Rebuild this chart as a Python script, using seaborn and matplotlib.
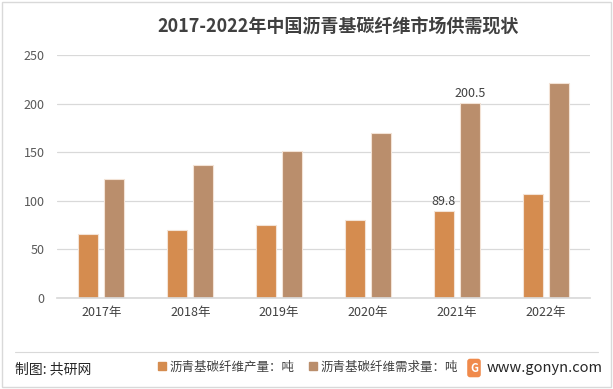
import pandas as pd
import matplotlib.pyplot as plt
import matplotlib.patches as mpatches
from matplotlib.lines import Line2D
import seaborn as sns

# data
years = ["2017年", "2018年", "2019年", "2020年", "2021年", "2022年"]
output_t = [66.0, 70.0, 75.0, 80.0, 89.8, 107.0]
demand_t = [122.5, 137.0, 151.5, 170.0, 200.5, 221.0]
series_names = ["沥青基碳纤维产量：吨", "沥青基碳纤维需求量：吨"]
series_colors = ["#D58C4F", "#BA8E6C"]


def build_df():
    rows = []
    for y, a, b in zip(years, output_t, demand_t):
        rows.append({"year": y, "series": series_names[0], "value": a})
        rows.append({"year": y, "series": series_names[1], "value": b})
    return pd.DataFrame(rows)


def plotChart(df):
    sns.set_theme(style="white")
    plt.rcParams["font.family"] = ["Noto Sans CJK SC", "DejaVu Sans"]

    fig = plt.figure(figsize=(6.13, 3.89), dpi=100)
    ax = fig.add_axes([57 / 613, 1 - 298 / 389, 533 / 613, 243 / 389])

    sns.barplot(data=df, x="year", y="value", hue="series", order=years,
                hue_order=series_names, palette=series_colors, saturation=1,
                width=0.585, gap=0.23, edgecolor="#F3E3D6", linewidth=0.8,
                legend=False, ax=ax)

    ax.set_ylim(0, 250)
    ax.set_xlim(-0.5, 5.5)
    ax.set_yticks(range(0, 251, 50))
    ax.yaxis.grid(True, color="#D9D9D9", linewidth=0.9)
    ax.set_axisbelow(True)
    for s in ["top", "right", "left"]:
        ax.spines[s].set_visible(False)
    ax.spines["bottom"].set_color("#D9D9D9")
    ax.set_xlabel("")
    ax.set_ylabel("")
    ax.tick_params(axis="y", length=0, labelsize=9, labelcolor="#595959", pad=9)
    ax.tick_params(axis="x", length=0, labelsize=9, labelcolor="#404040", pad=6)

    # data labels only on 2021
    i = years.index("2021年")
    off = 0.585 / 4
    ax.text(i - off, output_t[i] + 3, f"{output_t[i]:.1f}", ha="center", va="bottom",
            fontsize=9, color="#404040")
    ax.text(i + off, demand_t[i] + 3, f"{demand_t[i]:.1f}", ha="center", va="bottom",
            fontsize=9, color="#404040")

    fig.text(338 / 613, 1 - 27 / 389, "2017-2022年中国沥青基碳纤维市场供需现状",
             ha="center", va="center", fontsize=13, fontweight="bold", color="#404040")

    # footer
    fig.add_artist(Line2D([15 / 613, 598 / 613], [1 - 352 / 389, 1 - 352 / 389],
                          color="#D9D9D9", linewidth=0.8))
    fig.text(15 / 613, 1 - 369 / 389, "制图: 共研网", ha="left", va="center",
             fontsize=10, color="#262626")
    handles = [mpatches.Patch(color=c, label=n) for c, n in zip(series_colors, series_names)]
    fig.legend(handles=handles, loc="center", bbox_to_anchor=(308 / 613, 1 - 367 / 389),
               ncol=2, frameon=False, fontsize=9, handlelength=0.6, handleheight=0.6,
               handletextpad=0.3, columnspacing=1.2, labelcolor="#404040")
    fig.text(474 / 613, 1 - 368 / 389, "G", ha="center", va="center", fontsize=8,
             fontweight="bold", color="white",
             bbox=dict(boxstyle="round,pad=0.25", fc="#F08A4B", ec="none"))
    fig.text(487 / 613, 1 - 368 / 389, "www.gonyn.com", ha="left", va="center",
             fontsize=10.5, color="#262626")

    fig.add_artist(mpatches.Rectangle((0.003, 0.004), 0.994, 0.992, transform=fig.transFigure,
                                      fill=False, edgecolor="#D9D9D9", linewidth=1))

    fig.savefig("out.png", dpi=100)


def main():
    plotChart(build_df())


if __name__ == "__main__":
    main()
